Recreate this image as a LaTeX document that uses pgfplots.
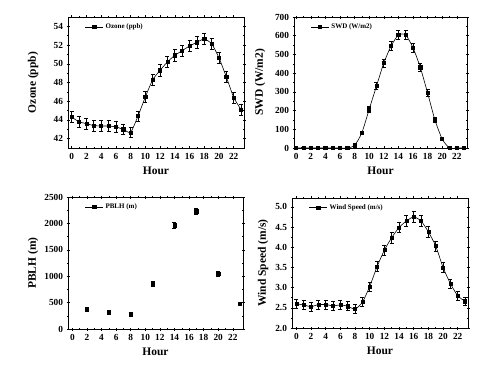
\documentclass[border=0pt]{standalone}
\usepackage{pgfplots}
\pgfplotsset{compat=1.18}
\usepackage{fontspec}
\setmainfont{Liberation Serif}
\pgfplotsset{
  myax/.style={
    scale only axis,
    xmin=-0.5, xmax=23.4,
    xtick={0,2,...,22}, minor x tick num=1, minor y tick num=1,
    tick align=center, major tick length=3pt, minor tick length=2pt,
    axis line style={line width=0.8pt},
    every tick/.style={black,line width=0.5pt},
    tick label style={font=\fontsize{9.3}{10}\selectfont\bfseries},
    /pgf/number format/assume math mode=true,
    /pgf/number format/1000 sep={},
    xlabel={Hour},
    every axis x label/.style={at={(rel axis cs:0.5,0)},yshift=-23pt,anchor=center,font=\fontsize{11.5}{12}\selectfont\bfseries},
    every axis y label/.style={at={(rel axis cs:0,0.5)},rotate=90,anchor=center,font=\fontsize{11.5}{12}\selectfont\bfseries},
    legend style={draw=none,fill=none,at={(0.09,0.925)},anchor=west,inner sep=1pt,
      font=\fontsize{7}{8}\selectfont\bfseries},
    legend cell align=left,
    legend image code/.code={
      \draw[black,line width=0.6pt] (0pt,0pt) -- (18pt,0pt);
      \fill[black] (9pt-1.6pt,-1.6pt) rectangle (9pt+1.6pt,1.6pt);},
  },
  myplot/.style={black, line width=0.6pt, mark=square*, mark size=1.6pt,
    mark options={solid,fill=black},
    error bars/y dir=both, error bars/y explicit,
    error bars/error bar style={line width=0.6pt,black},
    error bars/error mark options={rotate=90,mark size=2pt,line width=0.6pt,black}},
}
\begin{document}
\begin{tikzpicture}[x=1pt,y=1pt]
\useasboundingbox (0,0) rectangle (500,375);
% Ozone
\begin{axis}[myax, at={(68pt,227pt)}, anchor=south west, width=176pt, height=131pt,
  ymin=41, ymax=55, ytick={42,44,...,54}, ylabel={Ozone (ppb)},
  every axis y label/.append style={yshift=35pt}]
\addplot[myplot, smooth, tension=0.3] table[x=h,y=v,y error=e] {
h v e
0 44.3 0.6
1 43.8 0.6
2 43.6 0.6
3 43.4 0.6
4 43.35 0.6
5 43.35 0.6
6 43.25 0.6
7 43.0 0.55
8 42.65 0.55
9 44.4 0.55
10 46.45 0.6
11 48.3 0.6
12 49.3 0.6
13 50.2 0.6
14 50.9 0.6
15 51.4 0.6
16 51.9 0.6
17 52.3 0.6
18 52.65 0.6
19 52.15 0.6
20 50.65 0.6
21 48.6 0.6
22 46.4 0.6
23 45.1 0.6
};
\addlegendentry{Ozone (ppb)}
\end{axis}
% SWD
\begin{axis}[myax, at={(294pt,227pt)}, anchor=south west, width=173pt, height=131pt,
  xmin=-0.3, ymin=0, ymax=700, ytick={0,100,...,700}, ylabel={SWD (W/m2)},
  every axis y label/.append style={yshift=34pt}]
\addplot[myplot, smooth, tension=0.4] table[x=h,y=v,y error=e] {
h v e
0 0 2
1 0 2
2 0 2
3 0 2
4 0 2
5 0 2
6 0 2
7 0 2
8 14 5
9 82 8
10 207 14
11 331 18
12 454 22
13 545 24
14 604 25
15 604 25
16 536 24
17 431 20
18 294 17
19 151 12
20 48 6
21 0 2
22 0 2
23 0 2
};
\addlegendentry{SWD (W/m2)}
\end{axis}
% PBLH
\begin{axis}[myax, at={(68pt,46pt)}, anchor=south west, width=175pt, height=132pt,
  xmin=-0.6, ymin=0, ymax=2500, ytick={0,500,...,2500}, ylabel={PBLH (m)},
  every axis y label/.append style={yshift=35pt}]
\addplot[myplot, only marks] table[x=h,y=v,y error=e] {
h v e
2 370 38
5 320 35
8 275 35
11 855 40
14 1965 50
17 2230 55
20 1050 50
23 470 30
};
\addlegendentry{PBLH (m)}
\end{axis}
% Wind
\begin{axis}[myax, at={(292pt,47pt)}, anchor=south west, width=176pt, height=130pt,
  xmin=-0.6, ymin=2.0, ymax=5.22, ytick={2.0,2.5,...,5.0}, ylabel={Wind Speed (m/s)},
  yticklabel style={/pgf/number format/.cd,fixed,fixed zerofill,precision=1},
  every axis y label/.append style={yshift=29pt}]
\addplot[myplot, smooth, tension=0.4] table[x=h,y=v,y error=e] {
h v e
0 2.60 0.11
1 2.57 0.11
2 2.53 0.11
3 2.58 0.11
4 2.58 0.11
5 2.55 0.11
6 2.57 0.11
7 2.54 0.11
8 2.47 0.11
9 2.64 0.11
10 3.03 0.11
11 3.52 0.12
12 3.93 0.12
13 4.24 0.13
14 4.49 0.13
15 4.65 0.13
16 4.75 0.13
17 4.65 0.13
18 4.38 0.13
19 4.03 0.12
20 3.50 0.12
21 3.10 0.11
22 2.80 0.11
23 2.66 0.11
};
\addlegendentry{Wind Speed (m/s)}
\end{axis}
\end{tikzpicture}
\end{document}
